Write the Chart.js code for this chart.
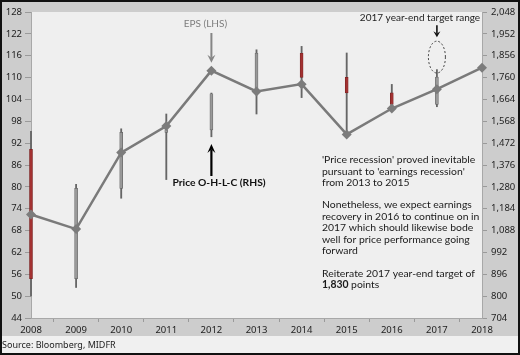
<!DOCTYPE html>
<html>
<head>
<meta charset="utf-8">
<script src="https://cdn.jsdelivr.net/npm/chart.js@4.4.1/dist/chart.umd.min.js"></script>
<style>
html,body{margin:0;padding:0;background:#fff;}
canvas{display:block;}
</style>
</head>
<body>
<canvas id="c" width="520" height="355"></canvas>
<script>
// ---- data ----
const years = [2008, 2009, 2010, 2011, 2012, 2013, 2014, 2015, 2016, 2017, 2018];
const eps = [72.4, 68.4, 89.4, 96.7, 111.9, 106.2, 108.2, 94.4, 101.5, 106.8, 112.7];
const candleYears = [2008, 2009, 2010, 2011, 2012, 2013, 2014, 2015, 2016, 2017];
const priceOpen  = [1445, 877, 1273, 1519, 1530, 1689, 1867, 1761, 1693, 1642];
const priceHigh  = [1524, 1291, 1535, 1600, 1692, 1882, 1897, 1868, 1730, 1795];
const priceLow   = [801, 838, 1230, 1312, 1500, 1600, 1672, 1503, 1614, 1632];
const priceClose = [877, 1273, 1519, 1531, 1689, 1867, 1761, 1693, 1642, 1762];
const targetYear = 2017;
const targetRange = [1780, 1920];
const epsAxis = {min: 44, max: 128, step: 6};
const priceAxis = {min: 704, max: 2048, step: 96};
const noteLines = [
  ["'Price recession' proved inevitable", "pursuant to 'earnings recession'", "from 2013 to 2015"],
  ["Nonetheless, we expect earnings", "recovery in 2016 to continue on in", "2017 which should likewise bode", "well for price performance going", "forward"],
  ["Reiterate 2017 year-end target of"]
];
const targetPoints = "1,830";

const FONT = "'Noto Sans', 'Liberation Sans', sans-serif";
const TFONT = "Lato, 'Noto Sans', sans-serif";
const RED = '#a33131';
const RED_EDGE = '#7a2222';
const GREY_BODY = '#999999';
const GREY_EDGE = '#666666';
const WICK = '#666666';

const bodyData = candleYears.map((y, i) => ({x: y, y: [priceOpen[i], priceClose[i]]}));
const wickData = candleYears.map((y, i) => ({x: y, y: [priceLow[i], priceHigh[i]]}));
const isDown = candleYears.map((y, i) => priceClose[i] < priceOpen[i]);
const bodyColors = isDown.map(d => d ? RED : GREY_BODY);
const bodyEdges = isDown.map(d => d ? RED_EDGE : GREY_EDGE);
const epsData = years.map((y, i) => ({x: y, y: eps[i]}));

function arrow(ctx, x, y1, y2, color, w, hw, hl) {
  const dir = y2 > y1 ? 1 : -1;
  ctx.save();
  ctx.strokeStyle = color; ctx.fillStyle = color; ctx.lineWidth = w;
  ctx.beginPath(); ctx.moveTo(x, y1); ctx.lineTo(x, y2 - dir * hl * 0.6); ctx.stroke();
  ctx.beginPath();
  ctx.moveTo(x, y2);
  ctx.lineTo(x - hw, y2 - dir * hl);
  ctx.lineTo(x, y2 - dir * hl * 0.6);
  ctx.lineTo(x + hw, y2 - dir * hl);
  ctx.closePath(); ctx.fill();
  ctx.restore();
}

const bgPlugin = {
  id: 'bg',
  beforeDraw(chart) {
    const {ctx, chartArea: a, width, height} = chart;
    ctx.save();
    ctx.fillStyle = '#cdcdcd';
    ctx.fillRect(0, 0, width, height);
    ctx.fillStyle = '#f0f0f0';
    ctx.fillRect(0, 336, width, height - 336);
    ctx.fillStyle = '#efefef';
    ctx.fillRect(a.left, a.top, a.right - a.left, a.bottom - a.top);
    ctx.restore();
  },
  afterDraw(chart) {
    const {ctx, width, height} = chart;
    const xs = chart.scales.x, yp = chart.scales.y2, ye = chart.scales.y;
    ctx.save();
    // target ellipse
    const cx = xs.getPixelForValue(targetYear);
    const yTop = yp.getPixelForValue(targetRange[1]);
    const yBot = yp.getPixelForValue(targetRange[0]);
    ctx.setLineDash([2, 2]);
    ctx.strokeStyle = '#333'; ctx.lineWidth = 0.9;
    ctx.beginPath();
    ctx.ellipse(cx, (yTop + yBot) / 2, 8.5, (yBot - yTop) / 2, 0, 0, Math.PI * 2);
    ctx.stroke();
    ctx.setLineDash([]);
    arrow(ctx, cx, yTop - 16, yTop - 4, '#111', 1.6, 3.5, 6);
    ctx.fillStyle = '#222';
    ctx.font = '10px ' + TFONT;
    ctx.textAlign = 'center'; ctx.textBaseline = 'middle';
    ctx.fillText('2017 year-end target range', 420, 18);

    // EPS label
    const ex = xs.getPixelForValue(2012);
    const ey = ye.getPixelForValue(eps[4]);
    ctx.fillStyle = '#7d7d7d';
    ctx.fillText('EPS (LHS)', ex - 6, 24);
    arrow(ctx, ex, 33, ey - 8, '#858585', 2, 4, 8);

    // Price label
    arrow(ctx, ex, 176, 144, '#000', 2.2, 4, 9);
    ctx.fillStyle = '#111';
    ctx.font = 'bold 10.3px ' + TFONT;
    ctx.fillText('Price O-H-L-C (RHS)', 219, 183);

    // notes
    ctx.font = '10.4px ' + TFONT;
    ctx.textAlign = 'left';
    ctx.fillStyle = '#1a1a1a';
    const lh = 11.4;
    const starts = [160, 205, 273.3];
    noteLines.forEach((para, p) => {
      para.forEach((t, i) => ctx.fillText(t, 322, starts[p] + i * lh));
    });
    ctx.font = 'bold 10.4px ' + TFONT;
    ctx.fillText(targetPoints, 322, starts[2] + lh);
    const w = ctx.measureText(targetPoints + ' ').width;
    ctx.font = '10.4px ' + TFONT;
    ctx.fillText('points', 322 + w, starts[2] + lh);

    // source
    ctx.font = '9px ' + FONT;
    ctx.fillStyle = '#222';
    ctx.fillText('Source: Bloomberg, MIDFR', 2, 345);

    // frame
    ctx.strokeStyle = '#111'; ctx.lineWidth = 2;
    ctx.strokeRect(1, 1, width - 2, height - 2);
    ctx.restore();
  }
};

new Chart(document.getElementById('c'), {
  type: 'line',
  data: {
    datasets: [
      {
        type: 'line', label: 'EPS', data: epsData, yAxisID: 'y', order: 0, clip: false,
        borderColor: '#7a7a7a', borderWidth: 2.5, tension: 0,
        pointStyle: 'rectRot', pointRadius: 5, pointBackgroundColor: '#7c7c7c', pointBorderColor: '#7c7c7c', pointBorderWidth: 0
      },
      {
        type: 'bar', label: 'body', data: bodyData, yAxisID: 'y2', order: 1, clip: false,
        backgroundColor: bodyColors, borderColor: bodyEdges, borderWidth: 0.7, borderSkipped: false,
        barThickness: 3, grouped: false
      },
      {
        type: 'bar', label: 'wick', data: wickData, yAxisID: 'y2', order: 2, clip: false,
        backgroundColor: WICK, barThickness: 1.2, grouped: false, borderWidth: 0
      }
    ]
  },
  options: {
    responsive: false, animation: false,
    layout: {padding: {top: 12, left: 0, right: 0, bottom: 0}},
    plugins: {legend: {display: false}, tooltip: {enabled: false}},
    scales: {
      x: {
        type: 'linear', min: 2008, max: 2018, offset: false,
        ticks: {stepSize: 1, callback: v => String(v), color: '#222', font: {family: FONT, size: 9.5}, padding: 3, maxRotation: 0, autoSkip: false},
        grid: {drawOnChartArea: false, drawTicks: true, tickLength: 4, color: '#9a9a9a'},
        border: {color: '#a8a8a8'},
        afterFit(s) { s.height = 37; }
      },
      y: {
        position: 'left', min: epsAxis.min, max: epsAxis.max,
        ticks: {stepSize: epsAxis.step, color: '#222', font: {family: FONT, size: 9.5}, padding: 3},
        grid: {drawOnChartArea: false, tickLength: 6, color: '#9a9a9a'},
        border: {color: '#a8a8a8'},
        afterFit(s) { s.width = 31; }
      },
      y2: {
        position: 'right', min: priceAxis.min, max: priceAxis.max,
        ticks: {stepSize: priceAxis.step, color: '#222', font: {family: FONT, size: 9.5}, padding: 4,
          callback: v => Number(v).toLocaleString('en-US')},
        grid: {drawOnChartArea: false, tickLength: 5, color: '#9a9a9a'},
        border: {color: '#a8a8a8'},
        afterFit(s) { s.width = 38; }
      }
    }
  },
  plugins: [bgPlugin]
});
</script>
</body>
</html>
